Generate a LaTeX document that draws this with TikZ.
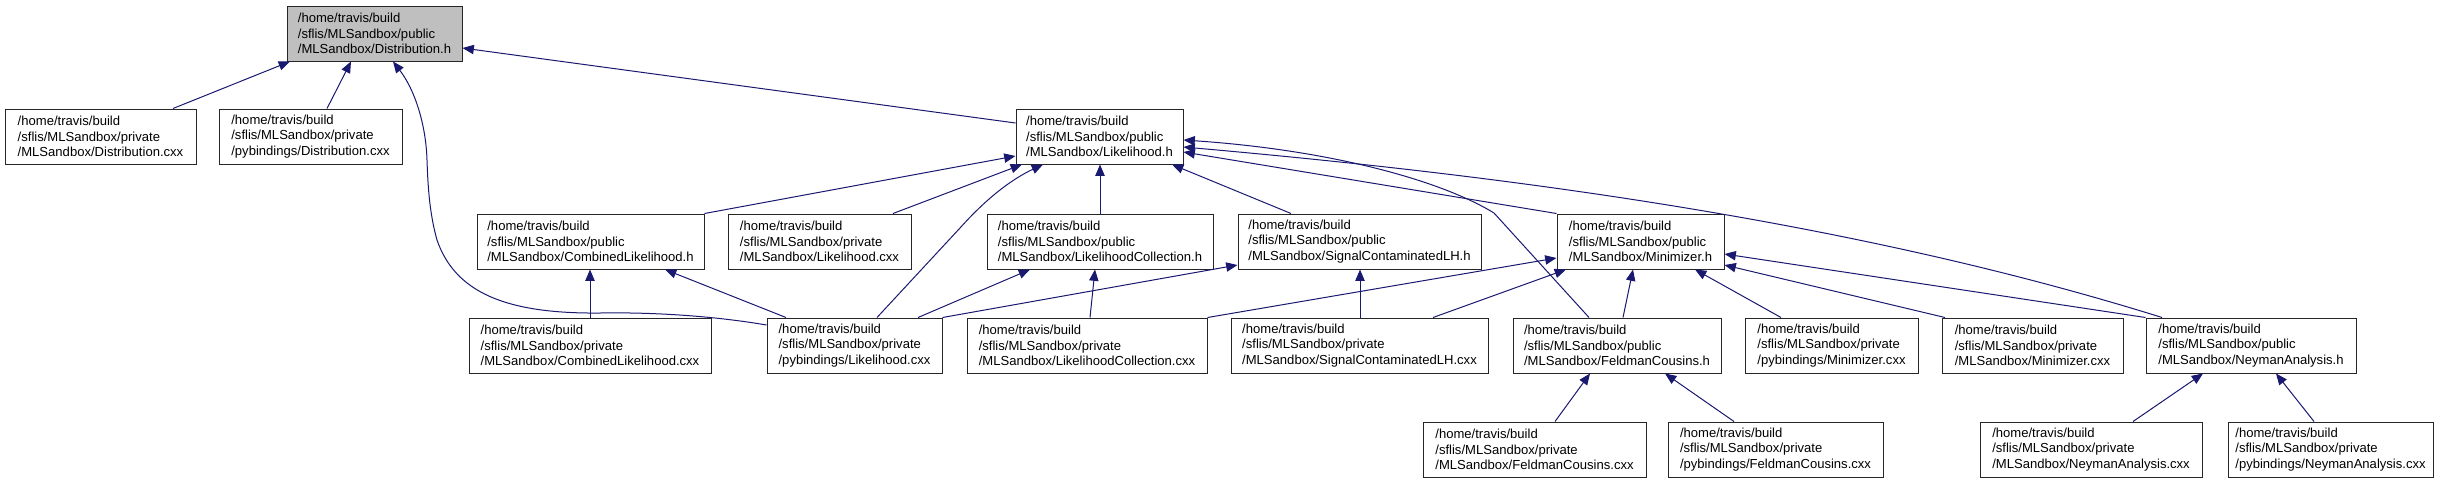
\documentclass[tikz,border=0pt]{standalone}
\usepackage{fontspec}
\setmainfont{Liberation Sans}
\usetikzlibrary{arrows.meta}
\definecolor{mb}{HTML}{191970}
\definecolor{rootfill}{HTML}{BFBFBF}
\tikzset{
  box/.style={draw=black!85, line width=0.75pt, fill=white, align=left, inner sep=0pt,
    font=\fontsize{9.8pt}{11.8pt}\selectfont},
  rootbox/.style={fill=rootfill},
  dep/.style={draw=mb, line width=0.75pt, -{Triangle[length=8.5pt,width=7pt]}, mb},
}
\newcommand\bx[7][]{%
  \pgfmathsetmacro\bw{(#5-#3)*0.75}%
  \pgfmathsetmacro\bh{(#6-#4)*0.75}%
  \node[box,#1,minimum width=\bw pt,minimum height=\bh pt] (#2) at ({(#3+#5)/2},{(#4+#6)/2}) {#7};%
}
\begin{document}
\begin{tikzpicture}[x=0.75pt,y=-0.75pt]
\useasboundingbox (0,0) rectangle (2449,483);
% row 1
\bx[rootbox]{D}{287}{6}{462}{61}{/home/travis/build\\/sflis/MLSandbox/public\\/MLSandbox/Distribution.h}
% row 2
\bx{DC}{5}{109}{196}{164}{/home/travis/build\\/sflis/MLSandbox/private\\/MLSandbox/Distribution.cxx}
\bx{PDC}{219}{109}{402}{164}{/home/travis/build\\/sflis/MLSandbox/private\\/pybindings/Distribution.cxx}
\bx{LH}{1016}{109}{1183}{164}{/home/travis/build\\/sflis/MLSandbox/public\\/MLSandbox/Likelihood.h}
% row 3
\bx{CLH}{477}{214}{704}{269}{/home/travis/build\\/sflis/MLSandbox/public\\/MLSandbox/CombinedLikelihood.h}
\bx{LCX}{728}{214}{911}{269}{/home/travis/build\\/sflis/MLSandbox/private\\/MLSandbox/Likelihood.cxx}
\bx{LCH}{987}{214}{1213}{269}{/home/travis/build\\/sflis/MLSandbox/public\\/MLSandbox/LikelihoodCollection.h}
\bx{SCH}{1238}{214}{1481}{269}{/home/travis/build\\/sflis/MLSandbox/public\\/MLSandbox/SignalContaminatedLH.h}
\bx{MH}{1557}{214}{1724}{269}{/home/travis/build\\/sflis/MLSandbox/public\\/MLSandbox/Minimizer.h}
% row 4
\bx{CLX}{469}{318}{711}{373}{/home/travis/build\\/sflis/MLSandbox/private\\/MLSandbox/CombinedLikelihood.cxx}
\bx{PLX}{767}{318}{942}{373}{/home/travis/build\\/sflis/MLSandbox/private\\/pybindings/Likelihood.cxx}
\bx{LCC}{967}{318}{1207}{373}{/home/travis/build\\/sflis/MLSandbox/private\\/MLSandbox/LikelihoodCollection.cxx}
\bx{SCC}{1231}{318}{1488}{373}{/home/travis/build\\/sflis/MLSandbox/private\\/MLSandbox/SignalContaminatedLH.cxx}
\bx{FCH}{1513}{318}{1721}{373}{/home/travis/build\\/sflis/MLSandbox/public\\/MLSandbox/FeldmanCousins.h}
\bx{PMX}{1745}{318}{1918}{373}{/home/travis/build\\/sflis/MLSandbox/private\\/pybindings/Minimizer.cxx}
\bx{MX}{1942}{318}{2123}{373}{/home/travis/build\\/sflis/MLSandbox/private\\/MLSandbox/Minimizer.cxx}
\bx{NAH}{2146}{318}{2356}{373}{/home/travis/build\\/sflis/MLSandbox/public\\/MLSandbox/NeymanAnalysis.h}
% row 5
\bx{FCX}{1423}{422}{1646}{477}{/home/travis/build\\/sflis/MLSandbox/private\\/MLSandbox/FeldmanCousins.cxx}
\bx{PFCX}{1668}{422}{1883}{477}{/home/travis/build\\/sflis/MLSandbox/private\\/pybindings/FeldmanCousins.cxx}
\bx{NAX}{1980}{422}{2202}{477}{/home/travis/build\\/sflis/MLSandbox/private\\/MLSandbox/NeymanAnalysis.cxx}
\bx{PNAX}{2228}{422}{2433}{477}{/home/travis/build\\/sflis/MLSandbox/private\\/pybindings/NeymanAnalysis.cxx}
% edges
\draw[dep] (173,0 |- DC.north) -- (290,0 |- D.south);
\draw[dep] (327,0 |- PDC.north) -- (351,0 |- D.south);
\draw[dep] (LH.west |- 0,123) -- (D.east |- 0,48);
\draw[dep] (PLX.west |- 0,325) .. controls (720,317) and (660,312) .. (600,313)
  .. controls (505,314) and (455,292) .. (437,240)
  .. controls (430,215) and (428,190) .. (427,160)
  .. controls (426,125) and (415,90) .. (393,0 |- D.south);
\draw[dep] (CLH.north east) -- (LH.west |- 0,156);
\draw[dep] (893,0 |- LCX.north) -- (1022,0 |- LH.south);
\draw[dep] (877,0 |- PLX.north) -- (960,228) .. controls (985,200) and (1010,180) .. (1043,0 |- LH.south);
\draw[dep] (1100,0 |- LCH.north) -- (1100,0 |- LH.south);
\draw[dep] (1291,0 |- SCH.north) -- (1172,0 |- LH.south);
\draw[dep] (MH.north west) -- (LH.east |- 0,152);
\draw[dep] (1589,0 |- FCH.north) -- (1494,213) .. controls (1440,180) and (1330,150) .. (LH.east |- 0,140);
\draw[dep] (2162,0 |- NAH.north) .. controls (1850,220) and (1500,175) .. (LH.east |- 0,147);
\draw[dep] (590,0 |- CLX.north) -- (590,0 |- CLH.south);
\draw[dep] (786,0 |- PLX.north) -- (665,0 |- CLH.south);
\draw[dep] (918,0 |- PLX.north) -- (1030,0 |- LCH.south);
\draw[dep] (1090,0 |- LCC.north) -- (1095,0 |- LCH.south);
\draw[dep] (PLX.north east) -- (SCH.west |- 0,265);
\draw[dep] (1360,0 |- SCC.north) -- (1360,0 |- SCH.south);
\draw[dep] (LCC.north east) -- (MH.west |- 0,258);
\draw[dep] (1433,0 |- SCC.north) -- (1566,0 |- MH.south);
\draw[dep] (1623,0 |- FCH.north) -- (1633,0 |- MH.south);
\draw[dep] (1781,0 |- PMX.north) -- (1695,0 |- MH.south);
\draw[dep] (1945,0 |- MX.north) -- (MH.east |- 0,265);
\draw[dep] (NAH.north west) -- (MH.east |- 0,254);
\draw[dep] (1555,0 |- FCX.north) -- (1590,0 |- FCH.south);
\draw[dep] (1734,0 |- PFCX.north) -- (1665,0 |- FCH.south);
\draw[dep] (2133,0 |- NAX.north) -- (2203,0 |- NAH.south);
\draw[dep] (2314,0 |- PNAX.north) -- (2276,0 |- NAH.south);
\end{tikzpicture}
\end{document}
